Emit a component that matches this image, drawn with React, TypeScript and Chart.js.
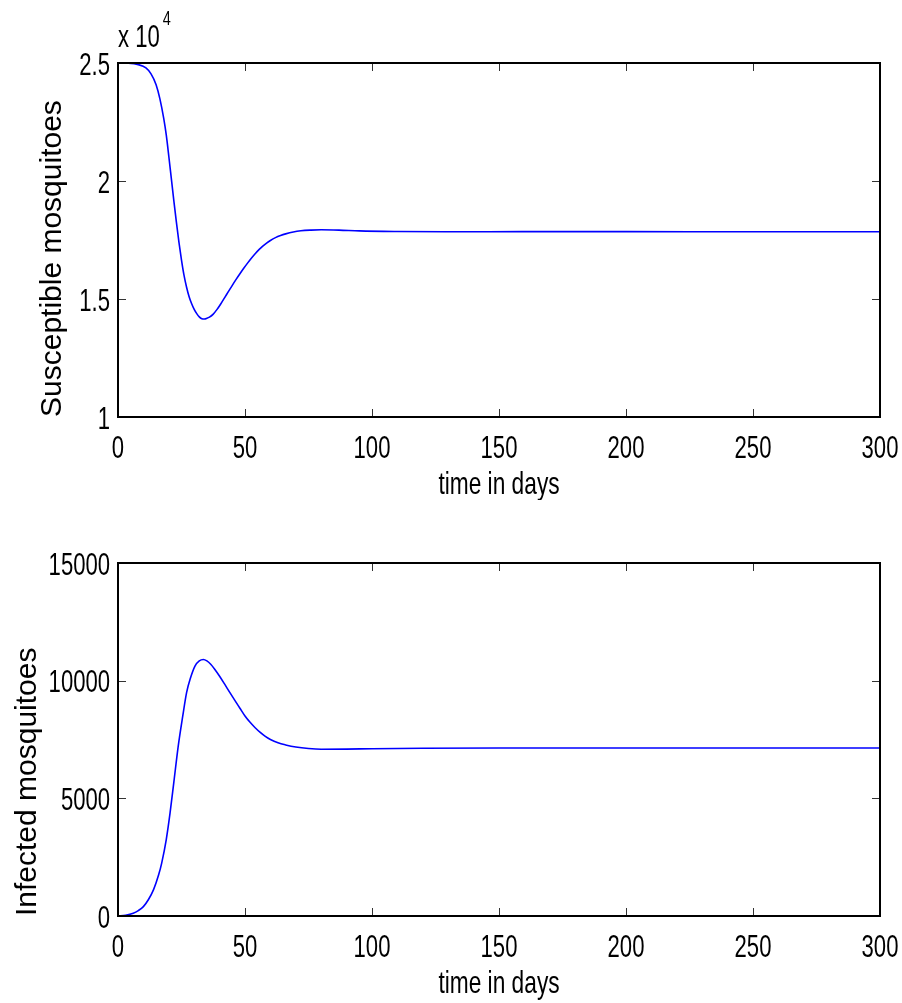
import React, { useEffect, useRef } from 'react';
import { Chart, registerables } from 'chart.js';

Chart.register(...registerables);

// ---------- data ----------
const daysS = [0, 4, 8, 11, 13, 15, 16.5, 18, 19, 20, 21, 22, 23, 24, 25, 26, 27, 28, 29, 30, 31, 32, 33, 34, 35, 36, 37.5, 39, 40.5, 42, 43.5, 45, 46.5, 48, 49.5, 51, 52.5, 54, 55.5, 57, 58.5, 60, 62, 64, 66, 69, 72, 76, 80, 87, 95, 110, 130, 160, 200, 250, 300];
const susceptible = [25000, 24990, 24930, 24790, 24540, 24080, 23480, 22650, 21950, 21050, 20100, 19150, 18250, 17400, 16650, 16000, 15500, 15100, 14800, 14560, 14380, 14240, 14165, 14150, 14180, 14230, 14360, 14560, 14800, 15060, 15320, 15580, 15830, 16070, 16300, 16520, 16730, 16920, 17090, 17240, 17370, 17480, 17600, 17690, 17760, 17840, 17890, 17920, 17935, 17920, 17885, 17860, 17850, 17855, 17855, 17850, 17850];

const daysI = [0, 3, 6, 8, 10, 12, 14, 16, 17.2, 19, 20.5, 22, 23.7, 25.5, 27, 28.5, 30.3, 32, 33.6, 35, 36.5, 38, 40, 42, 44, 46, 48, 50, 52, 54, 56, 58, 60, 63, 66, 70, 75, 80, 90, 100, 120, 150, 200, 250, 300];
const infected = [0, 30, 115, 230, 400, 700, 1120, 1750, 2250, 3250, 4380, 5700, 7210, 8500, 9490, 10100, 10620, 10840, 10900, 10840, 10700, 10500, 10190, 9850, 9500, 9160, 8830, 8500, 8230, 8000, 7800, 7630, 7500, 7360, 7270, 7180, 7115, 7085, 7090, 7110, 7130, 7140, 7140, 7140, 7140];

const xTicks = [0, 50, 100, 150, 200, 250, 300];
const yTicksS = [10000, 15000, 20000, 25000];
const yTicksI = [0, 5000, 10000, 15000];

const xTitle = 'time in days';
const yTitleS = 'Susceptible mosquitoes';
const yTitleI = 'Infected mosquitoes';
const exponentBase = 'x 10';
const exponentPow = '4';

const FONT = "'Liberation Sans', Arial, sans-serif";
const SQUEEZE = 0.69;
const TITLE_SQUEEZE = 0.71;

// ---------- helpers ----------
function squeezedText(
  ctx: CanvasRenderingContext2D,
  text: string,
  x: number,
  y: number,
  size: number,
  sx: number,
  align: CanvasTextAlign
) {
  ctx.save();
  ctx.translate(x, y);
  ctx.scale(sx, 1);
  ctx.font = `${size}px ${FONT}`;
  ctx.textAlign = align;
  ctx.textBaseline = 'alphabetic';
  ctx.fillStyle = '#000';
  ctx.fillText(text, 0, 0);
  ctx.restore();
}

// ---------- plugins ----------
function makeBoxPlugin(yFmt: (v: number) => string) {
  return {
    id: 'matlabBox',
    afterDatasetsDraw(chart: any) {
      const { ctx, chartArea } = chart;
      const { left, right, top, bottom } = chartArea;
      const xs = chart.scales.x;
      const ys = chart.scales.y;
      const tl = 8;
      ctx.save();
      ctx.strokeStyle = '#333';
      ctx.lineWidth = 1;
      ctx.beginPath();
      xs.ticks.forEach((t: any) => {
        const px = Math.round(xs.getPixelForValue(t.value)) + 0.5;
        ctx.moveTo(px, bottom);
        ctx.lineTo(px, bottom - tl);
        ctx.moveTo(px, top);
        ctx.lineTo(px, top + tl);
      });
      ys.ticks.forEach((t: any) => {
        const py = Math.round(ys.getPixelForValue(t.value)) + 0.5;
        ctx.moveTo(left, py);
        ctx.lineTo(left + tl, py);
        ctx.moveTo(right, py);
        ctx.lineTo(right - tl, py);
      });
      ctx.stroke();
      ctx.strokeStyle = '#000';
      ctx.lineWidth = 2;
      ctx.strokeRect(left, top, right - left, bottom - top);
      ctx.restore();

      // tick labels (squeezed, MATLAB-like narrow font)
      xs.ticks.forEach((t: any) => {
        squeezedText(ctx, String(t.value), xs.getPixelForValue(t.value), bottom + 41, 32, SQUEEZE, 'center');
      });
      ys.ticks.forEach((t: any) => {
        squeezedText(ctx, yFmt(t.value), left - 8, ys.getPixelForValue(t.value) + 11.5, 32, SQUEEZE, 'right');
      });
      // x-axis title
      squeezedText(ctx, xTitle, (left + right) / 2, bottom + 77, 32, TITLE_SQUEEZE, 'center');
    },
  };
}

const exponentPlugin = {
  id: 'exponentLabel',
  afterDraw(chart: any) {
    const { ctx, chartArea } = chart;
    ctx.save();
    ctx.font = `32px ${FONT}`;
    const w = ctx.measureText(exponentBase).width * SQUEEZE;
    ctx.restore();
    squeezedText(ctx, exponentBase, chartArea.left, chartArea.top - 16, 32, SQUEEZE, 'left');
    squeezedText(ctx, exponentPow, chartArea.left + w + 3, chartArea.top - 38, 21, SQUEEZE, 'left');
  },
};

function makeConfig(
  days: number[],
  values: number[],
  yTicks: number[],
  yFmt: (v: number) => string,
  yTitle: string,
  yTitlePad: number,
  xScaleH: number,
  withExponent: boolean
): any {
  const box = makeBoxPlugin(yFmt);
  return {
    type: 'line',
    data: {
      datasets: [
        {
          data: days.map((d, i) => ({ x: d, y: values[i] })),
          borderColor: '#0000ff',
          borderWidth: 1.6,
          pointRadius: 0,
          cubicInterpolationMode: 'monotone',
          fill: false,
        },
      ],
    },
    options: {
      animation: false,
      responsive: false,
      devicePixelRatio: 1,
      layout: { autoPadding: false, padding: { top: 63, right: 22, left: 0, bottom: 0 } },
      plugins: { legend: { display: false }, tooltip: { enabled: false } },
      scales: {
        x: {
          type: 'linear',
          min: xTicks[0],
          max: xTicks[xTicks.length - 1],
          afterBuildTicks: (s: any) => {
            s.ticks = xTicks.map((v) => ({ value: v }));
          },
          ticks: { display: false },
          grid: { display: false, drawTicks: false },
          border: { display: false },
          title: { display: false },
          afterFit: (s: any) => {
            s.height = xScaleH;
          },
        },
        y: {
          type: 'linear',
          min: yTicks[0],
          max: yTicks[yTicks.length - 1],
          afterBuildTicks: (s: any) => {
            s.ticks = yTicks.map((v) => ({ value: v }));
          },
          ticks: { display: false },
          grid: { display: false, drawTicks: false },
          border: { display: false },
          title: {
            display: true,
            text: yTitle,
            align: 'start',
            color: '#000',
            font: { family: FONT, size: 30, lineHeight: 1 },
            padding: { top: yTitlePad, bottom: 0 },
          },
          afterFit: (s: any) => {
            s.width = 118;
          },
        },
      },
    },
    plugins: withExponent ? [box, exponentPlugin] : [box],
  };
}

function Panel(props: { top: number; height: number; config: any }) {
  const ref = useRef<HTMLCanvasElement | null>(null);
  useEffect(() => {
    if (!ref.current) return;
    const chart = new Chart(ref.current, props.config);
    return () => chart.destroy();
  }, []);
  return (
    <canvas
      ref={ref}
      width={902}
      height={props.height}
      style={{ position: 'absolute', left: 0, top: props.top, width: 902, height: props.height }}
    />
  );
}

export default function App() {
  const topCfg = makeConfig(daysS, susceptible, yTicksS, (v) => String(v / 10000), yTitleS, 38, 83, true);
  const botCfg = makeConfig(daysI, infected, yTicksI, (v) => String(v), yTitleI, 13, 87, false);
  return (
    <div style={{ position: 'absolute', left: 0, top: 0, width: 902, height: 1003, background: '#fff' }}>
      <Panel top={0} height={500} config={topCfg} />
      <Panel top={500} height={503} config={botCfg} />
    </div>
  );
}
